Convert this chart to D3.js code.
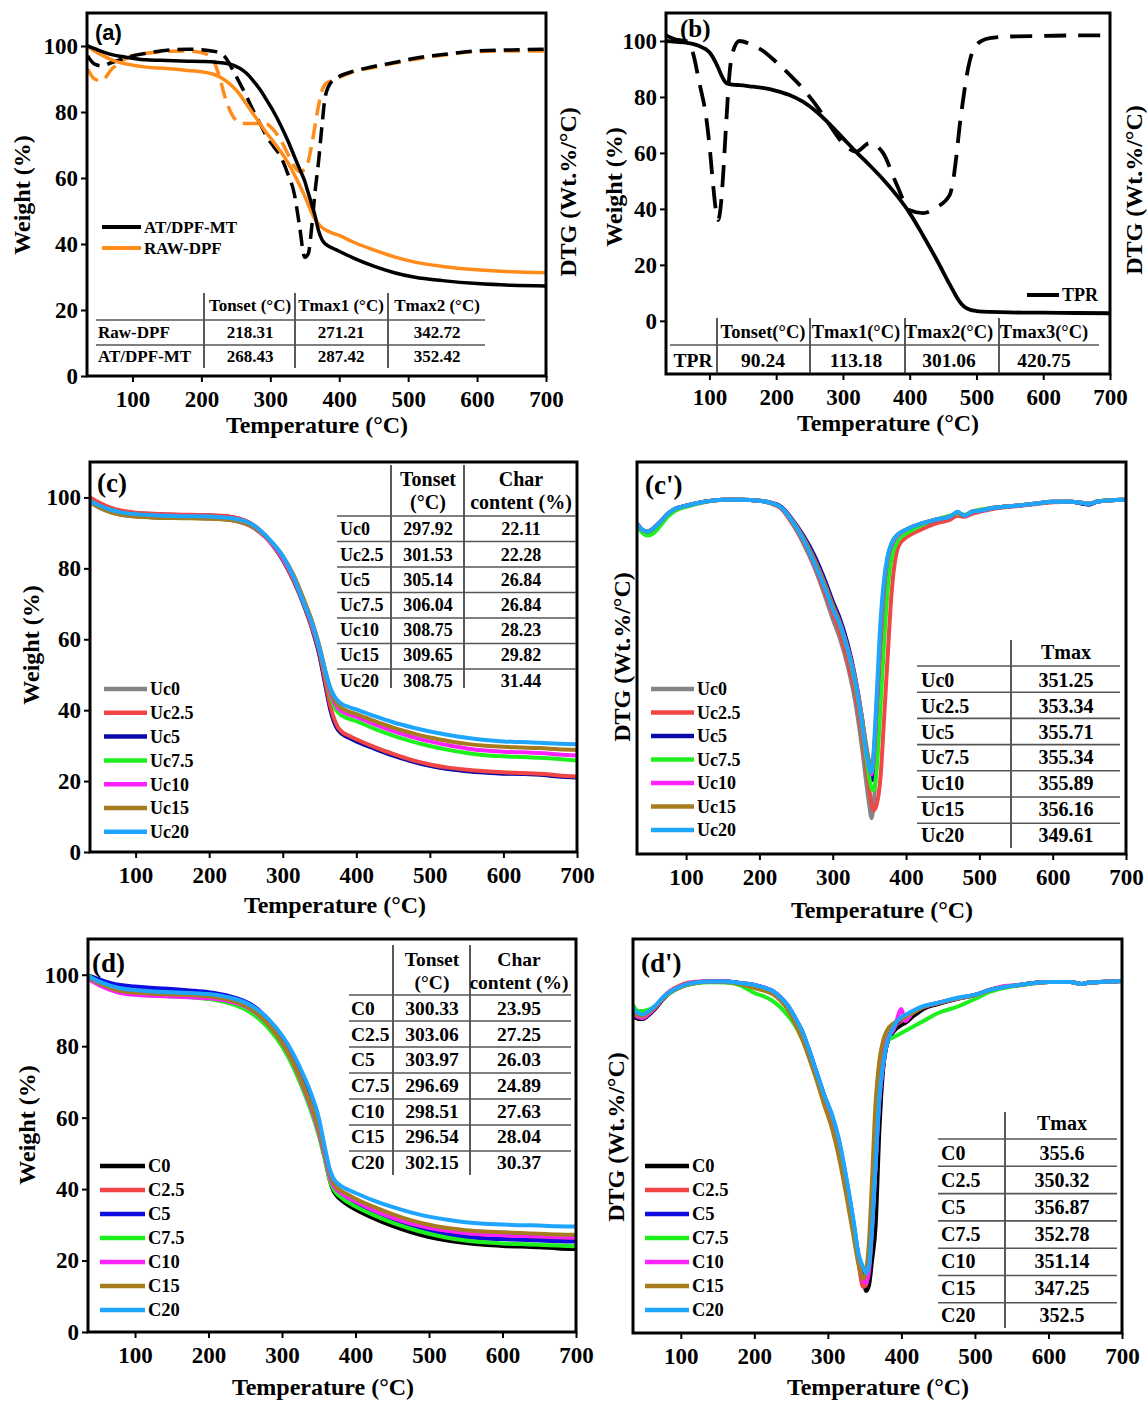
<!DOCTYPE html>
<html>
<meta charset="utf-8">
<head>
<script src="https://d3js.org/d3.v7.min.js"></script>
<style>
  body { margin: 0; background: #fff; }
  text { font-family: 'Liberation Serif', 'Times New Roman', serif; font-weight: bold; }
</style>
</head>
<body>
<script>
// ---------- data ----------
var xTicks = [100, 200, 300, 400, 500, 600, 700];
var yTicks = [0, 20, 40, 60, 80, 100];

// (a) raw vs treated fibre, TG (solid) and DTG (dashed)
var tempA = [35, 45, 55, 70, 85, 100, 120, 150, 180, 200, 215, 225, 235, 245, 255, 265, 275, 285, 295, 305,
             315, 325, 335, 342, 350, 355, 360, 365, 370, 375, 380, 390, 400, 420, 450, 480, 510, 550, 600, 650, 700];
var tgMT   = [100, 99.2, 98.4, 97.4, 96.8, 96.3, 95.8, 95.6, 95.4, 95.3, 95.2, 95, 94.8, 94.3, 93.3, 91.8, 89.5, 86.8, 83.5, 80,
              76, 71.5, 66.5, 63, 59, 55.5, 52, 48.5, 44, 41.3, 40, 38.8, 37.8, 35.8, 33.3, 31.3, 29.9, 28.9, 28, 27.5, 27.3];
var tgRaw  = [100, 98.5, 97.3, 95.8, 94.8, 94.2, 93.6, 93.2, 92.6, 92.2, 91.6, 90.8, 89.5, 87.8, 85.5, 82.5, 79.5, 76.5, 73.5, 70.8,
              68, 64.8, 61, 58, 54.5, 52, 49.5, 47.5, 46, 45, 44.3, 43.3, 42.6, 40.6, 38.2, 36.1, 34.5, 33.2, 32.2, 31.6, 31.3];
var dtgMT  = [97, 94.5, 94, 95, 96, 97, 97.8, 98.7, 99, 98.9, 98.5, 98, 96.5, 93, 89, 85, 80.5, 76.5, 72.5, 69.5,
              66.5, 61.5, 55, 46, 36, 37, 45, 56, 65, 76, 85, 89.5, 90.8, 92.3, 93.8, 95, 96.3, 97.4, 98.5, 98.8, 99];
var dtgRaw = [93, 90, 89.5, 93, 95.5, 97, 97.8, 98.4, 98.5, 98, 96.5, 91.5, 84, 79, 76.8, 76.5, 76.5, 76.5, 76.3, 74.5,
              71.5, 67.5, 63.5, 62, 62.5, 65, 70, 76, 82, 86.5, 88.5, 89.5, 90.5, 92.2, 93.5, 94.8, 96, 97.2, 98.3, 98.5, 98.5];
var tableAHead = ["Tonset (°C)", "Tmax1 (°C)", "Tmax2 (°C)"];
var tableARows = [["Raw-DPF", "218.31", "271.21", "342.72"], ["AT/DPF-MT", "268.43", "287.42", "352.42"]];

// (b) TPR
var tempB = [35, 50, 65, 75, 85, 95, 100, 105, 110, 113, 117, 120, 125, 130, 135, 145, 160, 180, 200, 220, 240, 260, 280,
             300, 320, 340, 360, 380, 400, 420, 440, 460, 465, 470, 475, 480, 485, 490, 500, 510, 520, 550, 600, 650, 700];
var tgTPR  = [100, 99.7, 99.4, 99, 98.2, 97, 96, 94.3, 92, 90.5, 88.3, 86.8, 85, 84.6, 84.4, 84.2, 83.8, 83.2, 82.2, 80.7, 78.3, 74.8, 70.3,
              65.3, 60.3, 55.6, 50.6, 45, 38.5, 30.5, 22, 13, 10.8, 8.6, 6.8, 5.4, 4.5, 4, 3.5, 3.3, 3.2, 3, 2.9, 2.8, 2.7];
var dtgTPR = [102, 100.5, 100, 96, 85, 73, 63, 50, 39, 36, 41, 50, 70, 88, 96, 100, 99, 96.5, 92.5, 88, 83, 77, 70,
              63.5, 60.5, 63.5, 60, 49, 39.5, 38.5, 40.5, 45, 50, 59, 70, 79, 87, 93, 98.5, 100.3, 101, 101.6, 101.8, 102, 102];
var tableBHead = ["Tonset(°C)", "Tmax1(°C)", "Tmax2(°C)", "Tmax3(°C)"];
var tableBRows = [["TPR", "90.24", "113.18", "301.06", "420.75"]];

// series names and colours for (c)-(d')
var ucNames = ["Uc0", "Uc2.5", "Uc5", "Uc7.5", "Uc10", "Uc15", "Uc20"];
var cNames  = ["C0", "C2.5", "C5", "C7.5", "C10", "C15", "C20"];
var ucColors = ["#858585", "#f24545", "#0a0aa8", "#1ef01e", "#ff22ff", "#a67c1e", "#1ea6ff"];
var cColors  = ["#000000", "#f24545", "#0d0de0", "#1ef01e", "#ff22ff", "#a67c1e", "#1ea6ff"];

// (c) TG of Uc series
var tempC = [38, 50, 65, 80, 100, 125, 150, 175, 200, 225, 240, 255, 270, 285, 300, 315, 330, 340, 350, 358,
             365, 370, 375, 380, 390, 400, 425, 450, 475, 500, 525, 550, 575, 600, 625, 650, 675, 700];
var tgUc0   = [99.8, 98.4, 97.0, 96.0, 95.4, 95.1, 94.9, 94.8, 94.7, 94.4, 93.8, 92.6, 90.3, 86.8, 82.3, 76.3, 68.8, 62.8, 55.3, 47.0,
               40.0, 36.6, 34.5, 33.4, 32.2, 31.3, 29.2, 27.3, 25.7, 24.4, 23.5, 22.9, 22.5, 22.2, 22.1, 21.9, 21.4, 21.1];
var tgUc2_5 = [100.0, 98.6, 97.2, 96.3, 95.7, 95.4, 95.2, 95.1, 95.0, 94.7, 94.1, 92.9, 90.6, 87.1, 82.6, 76.6, 69.2, 63.2, 56.2, 48.0,
               41.0, 37.5, 35.2, 34.0, 32.8, 31.8, 29.6, 27.7, 26.0, 24.7, 23.8, 23.2, 22.8, 22.5, 22.3, 22.1, 21.6, 21.3];
var tgUc5   = [99.6, 98.3, 97.0, 96.1, 95.6, 95.3, 95.1, 95.0, 94.9, 94.6, 94.0, 92.8, 90.5, 87.0, 82.5, 76.5, 69.0, 63.0, 55.5, 47.0,
               40.0, 36.5, 34.5, 33.4, 32.2, 31.2, 29.1, 27.2, 25.6, 24.3, 23.4, 22.8, 22.4, 22.1, 22.0, 21.8, 21.3, 21.0];
var tgUc7_5 = [98.8, 97.3, 96.0, 95.2, 94.7, 94.4, 94.3, 94.2, 94.1, 93.8, 93.2, 92.1, 90.0, 87.0, 83.0, 77.3, 70.0, 64.3, 57.0, 50.0,
               44.0, 41.0, 39.4, 38.5, 37.6, 36.9, 34.7, 32.8, 31.2, 29.9, 28.8, 27.9, 27.3, 27.0, 26.8, 26.6, 26.2, 25.8];
var tgUc10  = [98.8, 97.3, 96.0, 95.2, 94.7, 94.4, 94.3, 94.2, 94.1, 93.8, 93.2, 92.1, 90.0, 87.0, 83.0, 77.3, 70.0, 64.3, 57.3, 50.5,
               44.8, 42.2, 40.6, 39.7, 38.8, 38.1, 36.0, 34.1, 32.5, 31.2, 30.1, 29.2, 28.6, 28.3, 28.1, 27.9, 27.5, 27.2];
var tgUc15  = [98.6, 97.2, 95.9, 95.1, 94.6, 94.3, 94.2, 94.1, 94.0, 93.7, 93.2, 92.2, 90.2, 87.3, 83.5, 78.0, 70.5, 65.0, 58.0, 51.0,
               45.5, 43.0, 41.5, 40.6, 39.6, 38.9, 36.9, 35.1, 33.6, 32.3, 31.3, 30.5, 30.0, 29.7, 29.5, 29.3, 29.0, 28.8];
var tgUc20  = [99.0, 97.8, 96.6, 95.8, 95.3, 95.0, 94.8, 94.7, 94.6, 94.3, 93.8, 92.8, 90.6, 87.5, 83.5, 77.5, 69.5, 64.5, 57.5, 51.0,
               46.2, 44.0, 42.6, 41.8, 40.9, 40.2, 38.3, 36.6, 35.2, 34.0, 33.0, 32.2, 31.6, 31.2, 31.0, 30.8, 30.5, 30.4];
var tableCTonset = ["297.92", "301.53", "305.14", "306.04", "308.75", "309.65", "308.75"];
var tableCChar   = ["22.11", "22.28", "26.84", "26.84", "28.23", "29.82", "31.44"];

// (c') DTG of Uc series (Wt.%/°C)
var tempCp = [33, 40, 47, 55, 65, 75, 85, 100, 125, 150, 175, 200, 215, 230, 245, 260, 275, 290, 300, 310, 320, 330, 340, 345, 350,
              353, 356, 360, 365, 370, 375, 380, 390, 400, 420, 440, 460, 470, 480, 490, 500, 520, 550, 575, 600, 625, 640, 650, 660, 675, 700];
var dtgUc0   = [-0.12, -0.15, -0.16, -0.15, -0.115, -0.075, -0.05, -0.03, -0.01, 0, 0, -0.005, -0.017, -0.045, -0.12, -0.22, -0.34, -0.49, -0.6, -0.7, -0.83, -1.0, -1.25, -1.4, -1.54,
                -1.6, -1.52, -1.3, -0.95, -0.58, -0.36, -0.26, -0.19, -0.16, -0.13, -0.11, -0.09, -0.07, -0.08, -0.065, -0.055, -0.04, -0.03, -0.02, -0.01, -0.01, -0.015, -0.02, -0.01, -0.003, 0];
var dtgUc2_5 = [-0.125, -0.155, -0.165, -0.15, -0.115, -0.075, -0.05, -0.03, -0.01, 0, 0, -0.005, -0.017, -0.045, -0.12, -0.21, -0.33, -0.47, -0.57, -0.67, -0.8, -0.96, -1.18, -1.32, -1.46,
                -1.53, -1.56, -1.53, -1.4, -1.1, -0.78, -0.48, -0.23, -0.19, -0.15, -0.12, -0.1, -0.08, -0.085, -0.07, -0.06, -0.045, -0.032, -0.022, -0.012, -0.01, -0.015, -0.02, -0.01, -0.003, 0];
var dtgUc5   = [-0.12, -0.15, -0.16, -0.145, -0.11, -0.07, -0.045, -0.03, -0.01, 0, 0, -0.005, -0.013, -0.035, -0.1, -0.18, -0.28, -0.41, -0.51, -0.6, -0.72, -0.88, -1.1, -1.24, -1.37,
                -1.41, -1.35, -1.1, -0.8, -0.5, -0.32, -0.24, -0.18, -0.155, -0.125, -0.1, -0.085, -0.065, -0.08, -0.06, -0.055, -0.04, -0.03, -0.02, -0.01, -0.01, -0.02, -0.025, -0.01, -0.003, 0];
var dtgUc7_5 = [-0.13, -0.165, -0.18, -0.17, -0.13, -0.085, -0.055, -0.035, -0.012, 0, 0, -0.005, -0.015, -0.04, -0.11, -0.2, -0.31, -0.44, -0.54, -0.63, -0.75, -0.91, -1.13, -1.27, -1.4,
                -1.45, -1.46, -1.35, -1.05, -0.72, -0.45, -0.3, -0.2, -0.17, -0.13, -0.1, -0.08, -0.07, -0.075, -0.06, -0.05, -0.04, -0.03, -0.02, -0.01, -0.01, -0.015, -0.02, -0.008, -0.003, 0];
var dtgUc10  = [-0.12, -0.15, -0.16, -0.145, -0.11, -0.07, -0.045, -0.03, -0.01, 0, 0, -0.005, -0.015, -0.04, -0.105, -0.19, -0.3, -0.43, -0.53, -0.62, -0.74, -0.89, -1.1, -1.23, -1.34,
                -1.38, -1.3, -1.05, -0.72, -0.45, -0.3, -0.23, -0.175, -0.15, -0.12, -0.1, -0.085, -0.065, -0.08, -0.06, -0.055, -0.04, -0.03, -0.02, -0.01, -0.01, -0.015, -0.02, -0.01, -0.003, 0];
var dtgUc15  = [-0.12, -0.15, -0.16, -0.145, -0.11, -0.07, -0.045, -0.03, -0.01, 0, 0, -0.005, -0.015, -0.04, -0.105, -0.19, -0.3, -0.43, -0.53, -0.62, -0.74, -0.89, -1.1, -1.22, -1.32,
                -1.36, -1.28, -1.02, -0.68, -0.43, -0.29, -0.22, -0.17, -0.15, -0.12, -0.1, -0.085, -0.065, -0.08, -0.06, -0.055, -0.04, -0.03, -0.02, -0.01, -0.01, -0.015, -0.02, -0.01, -0.003, 0];
var dtgUc20  = [-0.12, -0.15, -0.16, -0.145, -0.11, -0.07, -0.045, -0.03, -0.01, 0, 0, -0.005, -0.015, -0.04, -0.11, -0.2, -0.32, -0.45, -0.55, -0.63, -0.75, -0.9, -1.12, -1.25, -1.35,
                -1.37, -1.25, -0.98, -0.62, -0.4, -0.28, -0.22, -0.17, -0.15, -0.12, -0.1, -0.085, -0.06, -0.08, -0.06, -0.055, -0.04, -0.03, -0.02, -0.01, -0.01, -0.015, -0.02, -0.01, -0.003, 0];
var tableCpTmax = ["351.25", "353.34", "355.71", "355.34", "355.89", "356.16", "349.61"];

// (d) TG of C series
var tempD = [36, 50, 65, 80, 100, 125, 150, 175, 200, 225, 240, 255, 270, 285, 300, 315, 330, 340, 350, 358,
             365, 370, 375, 380, 390, 400, 425, 450, 475, 500, 525, 550, 575, 600, 625, 650, 675, 700];
var tgC0   = [99.5, 98.3, 97.2, 96.4, 95.8, 95.4, 95.2, 94.9, 94.5, 93.7, 92.8, 91.4, 89.2, 86.0, 81.5, 75.5, 68.0, 62.5, 55.5, 49.0,
              42.5, 39.5, 38.0, 37.0, 35.5, 34.3, 31.8, 29.7, 28.0, 26.6, 25.6, 24.9, 24.4, 24.1, 23.9, 23.7, 23.4, 23.2];
var tgC2_5 = [99.0, 97.5, 96.0, 95.0, 94.5, 94.2, 94.0, 93.8, 93.5, 92.8, 92.0, 90.7, 88.5, 85.3, 81.0, 75.3, 68.0, 62.5, 55.8, 49.3,
              43.0, 40.5, 39.2, 38.4, 37.1, 36.0, 33.6, 31.6, 30.0, 28.8, 28.0, 27.4, 27.0, 26.8, 26.6, 26.5, 26.3, 26.2];
var tgC5   = [99.8, 98.8, 97.8, 97.1, 96.7, 96.3, 96.0, 95.6, 95.1, 94.2, 93.3, 92.0, 89.8, 86.6, 82.5, 76.8, 69.5, 63.8, 57.0, 50.0,
              43.5, 40.5, 39.0, 38.0, 36.6, 35.4, 32.9, 30.9, 29.3, 28.2, 27.3, 26.6, 26.2, 26.0, 25.8, 25.6, 25.4, 25.3];
var tgC7_5 = [99.8, 98.0, 96.5, 95.3, 94.6, 94.2, 94.0, 93.7, 93.2, 92.2, 91.2, 89.7, 87.4, 84.2, 80.0, 74.3, 67.0, 61.5, 55.0, 48.5,
              42.5, 40.0, 38.6, 37.7, 36.3, 35.1, 32.7, 30.6, 28.9, 27.5, 26.4, 25.6, 25.1, 24.8, 24.6, 24.4, 24.2, 24.0];
var tgC10  = [98.8, 97.2, 95.8, 94.9, 94.4, 94.1, 93.9, 93.7, 93.4, 92.7, 91.9, 90.6, 88.4, 85.2, 81.0, 75.3, 68.0, 62.5, 56.0, 49.5,
              43.5, 41.0, 39.7, 38.9, 37.6, 36.5, 34.0, 32.0, 30.4, 29.2, 28.3, 27.7, 27.3, 27.1, 26.9, 26.8, 26.6, 26.4];
var tgC15  = [99.2, 97.7, 96.4, 95.5, 95.0, 94.7, 94.5, 94.3, 93.9, 93.1, 92.2, 90.8, 88.5, 85.2, 81.0, 75.5, 68.5, 63.3, 57.0, 50.5,
              44.5, 41.8, 40.4, 39.6, 38.4, 37.3, 35.0, 33.0, 31.3, 30.0, 29.1, 28.5, 28.1, 27.9, 27.7, 27.5, 27.3, 27.2];
var tgC20  = [99.5, 98.2, 97.0, 96.2, 95.7, 95.3, 95.1, 94.9, 94.6, 93.8, 93.0, 91.7, 89.7, 86.8, 83.0, 78.0, 71.5, 66.5, 60.0, 52.0,
              45.5, 43.0, 41.7, 40.9, 39.8, 38.9, 36.8, 35.0, 33.5, 32.3, 31.4, 30.7, 30.3, 30.1, 29.9, 29.8, 29.6, 29.5];
var tableDTonset = ["300.33", "303.06", "303.97", "296.69", "298.51", "296.54", "302.15"];
var tableDChar   = ["23.95", "27.25", "26.03", "24.89", "27.63", "28.04", "30.37"];

// (d') DTG of C series
var tempDp = [35, 42, 48, 55, 65, 75, 85, 100, 120, 140, 160, 180, 200, 215, 225, 235, 245, 255, 265, 275, 285, 295, 305, 315, 325, 335,
              342, 348, 352, 356, 360, 365, 370, 375, 380, 390, 400, 405, 415, 430, 450, 475, 500, 520, 540, 560, 580, 600, 630, 645, 655, 670, 700];
var dtgC0   = [-0.17, -0.19, -0.19, -0.175, -0.14, -0.095, -0.06, -0.03, -0.01, -0.003, -0.003, -0.01, -0.022, -0.04, -0.055, -0.085, -0.125, -0.19, -0.27, -0.37, -0.48, -0.6, -0.7, -0.82, -1.02, -1.24,
               -1.38, -1.48, -1.55, -1.52, -1.4, -1.22, -0.75, -0.45, -0.32, -0.25, -0.22, -0.21, -0.18, -0.14, -0.115, -0.09, -0.07, -0.045, -0.03, -0.02, -0.01, -0.005, -0.005, -0.015, -0.008, -0.005, 0];
var dtgC2_5 = [-0.16, -0.18, -0.18, -0.165, -0.13, -0.085, -0.05, -0.02, -0.004, 0, -0.002, -0.01, -0.02, -0.035, -0.05, -0.08, -0.125, -0.19, -0.27, -0.37, -0.49, -0.6, -0.72, -0.86, -1.05, -1.26,
               -1.42, -1.53, -1.52, -1.4, -1.2, -0.88, -0.55, -0.38, -0.3, -0.23, -0.2, -0.19, -0.16, -0.13, -0.11, -0.088, -0.07, -0.045, -0.03, -0.02, -0.01, -0.005, -0.005, -0.015, -0.008, -0.005, 0];
var dtgC5   = [-0.15, -0.17, -0.175, -0.16, -0.13, -0.09, -0.058, -0.028, -0.008, -0.003, -0.003, -0.01, -0.02, -0.035, -0.05, -0.08, -0.12, -0.18, -0.25, -0.35, -0.46, -0.57, -0.67, -0.8, -0.99, -1.21,
               -1.38, -1.44, -1.47, -1.42, -1.24, -0.92, -0.6, -0.43, -0.32, -0.23, -0.19, -0.18, -0.155, -0.13, -0.11, -0.088, -0.07, -0.045, -0.03, -0.02, -0.01, -0.005, -0.005, -0.015, -0.008, -0.005, 0];
var dtgC7_5 = [-0.12, -0.15, -0.15, -0.145, -0.125, -0.09, -0.06, -0.03, -0.012, -0.006, -0.008, -0.02, -0.06, -0.08, -0.1, -0.13, -0.17, -0.22, -0.29, -0.38, -0.48, -0.59, -0.69, -0.82, -1.01, -1.23,
               -1.38, -1.44, -1.45, -1.4, -1.22, -0.9, -0.58, -0.42, -0.3, -0.28, -0.26, -0.25, -0.23, -0.2, -0.16, -0.13, -0.09, -0.055, -0.035, -0.022, -0.012, -0.005, -0.005, -0.015, -0.008, -0.005, 0];
var dtgC10  = [-0.16, -0.18, -0.185, -0.17, -0.135, -0.09, -0.055, -0.025, -0.006, -0.002, -0.003, -0.01, -0.02, -0.035, -0.05, -0.08, -0.125, -0.19, -0.27, -0.37, -0.48, -0.6, -0.7, -0.84, -1.03, -1.25,
               -1.41, -1.5, -1.51, -1.45, -1.25, -0.92, -0.6, -0.42, -0.3, -0.24, -0.14, -0.2, -0.16, -0.13, -0.11, -0.088, -0.07, -0.045, -0.025, -0.02, -0.01, -0.005, -0.005, -0.015, -0.008, -0.005, 0];
var dtgC15  = [-0.15, -0.17, -0.175, -0.16, -0.13, -0.09, -0.058, -0.03, -0.01, -0.004, -0.005, -0.015, -0.035, -0.05, -0.065, -0.095, -0.14, -0.21, -0.29, -0.39, -0.5, -0.62, -0.73, -0.88, -1.07, -1.28,
               -1.42, -1.49, -1.45, -1.3, -1.0, -0.6, -0.4, -0.3, -0.25, -0.21, -0.19, -0.18, -0.16, -0.13, -0.11, -0.088, -0.07, -0.045, -0.03, -0.02, -0.01, -0.005, -0.005, -0.015, -0.008, -0.005, 0];
var dtgC20  = [-0.14, -0.16, -0.167, -0.155, -0.125, -0.085, -0.055, -0.027, -0.008, -0.003, -0.003, -0.01, -0.02, -0.035, -0.05, -0.08, -0.12, -0.18, -0.25, -0.35, -0.46, -0.57, -0.66, -0.79, -0.98, -1.2,
               -1.37, -1.43, -1.46, -1.42, -1.24, -0.91, -0.58, -0.42, -0.32, -0.225, -0.18, -0.17, -0.15, -0.125, -0.108, -0.085, -0.068, -0.045, -0.03, -0.02, -0.01, -0.005, -0.005, -0.015, -0.008, -0.005, 0];
var tableDpTmax = ["355.6", "350.32", "356.87", "352.78", "351.14", "347.25", "352.5"];

// ---------- drawing ----------
var svg = d3.select("body").append("svg")
    .attr("width", 1147)
    .attr("height", 1402);

svg.append("rect").attr("width", 1147).attr("height", 1402).attr("fill", "#fff");

function txt(x, y, s, size, anchor, rot) {
    var t = svg.append("text")
        .attr("font-size", size)
        .attr("text-anchor", anchor || "start")
        .attr("dy", "0.35em")
        .text(s);
    if (rot) t.attr("transform", "translate(" + x + "," + y + ") rotate(-90)");
    else t.attr("x", x).attr("y", y);
    return t;
}

function drawPanel(p) {
    var x = d3.scaleLinear().domain(p.xDom).range([p.x0, p.x1]);
    var y = d3.scaleLinear().domain(p.yDom).range([p.y1, p.y0]);

    svg.append("clipPath").attr("id", "clip" + p.id)
        .append("rect")
        .attr("x", p.x0).attr("y", p.y0)
        .attr("width", p.x1 - p.x0).attr("height", p.y1 - p.y0);

    var line = d3.line()
        .x(function(d) { return x(d[0]); })
        .y(function(d) { return y(d[1]); })
        .curve(d3.curveMonotoneX);

    var plot = svg.append("g").attr("clip-path", "url(#clip" + p.id + ")");
    p.order.forEach(function(k) {
        var s = p.series[k];
        plot.append("path")
            .datum(p.temps.map(function(t, i) { return [t, s.values[i]]; }))
            .attr("d", line)
            .attr("fill", "none")
            .attr("stroke", s.color)
            .attr("stroke-width", s.width || 4)
            .attr("stroke-dasharray", s.dash || null)
            .attr("stroke-linejoin", "round");
    });

    var xa = svg.append("g")
        .attr("transform", "translate(0," + p.y1 + ")")
        .call(d3.axisBottom(x).tickValues(xTicks).tickSize(6).tickPadding(9).tickFormat(d3.format("d")));
    if (p.weight) {
        var ya = svg.append("g")
            .attr("transform", "translate(" + p.x0 + ",0)")
            .call(d3.axisLeft(y).tickValues(yTicks).tickSize(6).tickPadding(3));
        ya.selectAll("text").attr("font-size", 23).attr("fill", "#000");
        ya.selectAll("line").attr("stroke-width", 2);
        ya.select(".domain").remove();
    }
    xa.selectAll("text").attr("font-size", 23).attr("fill", "#000");
    xa.selectAll("line").attr("stroke-width", 2);
    xa.select(".domain").remove();

    svg.append("rect")
        .attr("x", p.x0).attr("y", p.y0)
        .attr("width", p.x1 - p.x0).attr("height", p.y1 - p.y0)
        .attr("fill", "none").attr("stroke", "#000").attr("stroke-width", 3);

    // legend
    p.legend.items.forEach(function(it, i) {
        var ly = p.legend.y + i * p.legend.step;
        svg.append("line")
            .attr("x1", p.legend.x0).attr("x2", p.legend.x1)
            .attr("y1", ly).attr("y2", ly)
            .attr("stroke", it.color).attr("stroke-width", p.legend.lw || 4.5);
        txt(p.legend.x1 + 3, ly, it.name, p.legend.size);
    });
}

function tableLines(vx, vy, hy, hx) {
    vx.forEach(function(v) {
        svg.append("line").attr("x1", v).attr("x2", v).attr("y1", vy[0]).attr("y2", vy[1])
            .attr("stroke", "#222").attr("stroke-width", 1.5);
    });
    hy.forEach(function(h) {
        svg.append("line").attr("x1", hx[0]).attr("x2", hx[1]).attr("y1", h).attr("y2", h)
            .attr("stroke", "#555").attr("stroke-width", 1.6);
    });
}

function seriesList(names, colors, vals) {
    return names.map(function(n, i) { return { name: n, color: colors[i], values: vals[i] }; });
}

// ----- (a)
var seriesA = [
    { name: "AT/DPF-MT", color: "#000", values: tgMT, width: 3.5 },
    { name: "RAW-DPF", color: "#ff8c1a", values: tgRaw, width: 3.5 },
    { color: "#ff8c1a", values: dtgRaw, width: 3.5, dash: "16,8" },
    { color: "#000", values: dtgMT, width: 3.5, dash: "16,8" }
];
drawPanel({
    id: "a", x0: 87, x1: 546, y0: 13, y1: 376, xDom: [34, 700], yDom: [0, 110], weight: true,
    temps: tempA, series: seriesA, order: [2, 3, 1, 0],
    legend: { x0: 102, x1: 141, y: 227, step: 21, size: 17, lw: 4, items: seriesA.slice(0, 2) }
});
tableLines([204, 295, 388], [293, 368], [320, 345], [96, 485]);
[250, 341, 437].forEach(function(cx, j) {
    txt(cx, 305, tableAHead[j], 17, "middle");
    tableARows.forEach(function(r, i) { txt(cx, 332 + i * 24, r[j + 1], 17, "middle"); });
});
tableARows.forEach(function(r, i) { txt(98, 332 + i * 24, r[0], 17); });
txt(95, 32, "(a)", 22).style("font-family", "'Liberation Sans', Arial, sans-serif");
txt(317, 425, "Temperature (°C)", 24, "middle");
txt(22, 195, "Weight (%)", 24, "middle", true);
txt(568, 192, "DTG (Wt.%/°C)", 24, "middle", true);

// ----- (b)
var seriesB = [
    { name: "TPR", color: "#000", values: tgTPR, width: 3.8 },
    { color: "#000", values: dtgTPR, width: 3.8, dash: "22,12" }
];
drawPanel({
    id: "b", x0: 666, x1: 1110, y0: 13, y1: 374, xDom: [35, 700], yDom: [-19, 110], weight: true,
    temps: tempB, series: seriesB, order: [1, 0],
    legend: { x0: 1027, x1: 1059, y: 295, step: 0, size: 18, lw: 4, items: seriesB.slice(0, 1) }
});
tableLines([717, 810, 905, 999], [318, 374], [345], [670, 1099]);
[763, 856, 949, 1044].forEach(function(cx, j) {
    txt(cx, 332, tableBHead[j], 18.5, "middle");
    txt(cx, 360, tableBRows[0][j + 1], 19.5, "middle");
});
txt(693, 360, tableBRows[0][0], 19.5, "middle");
txt(680, 28, "(b)", 25);
txt(888, 423, "Temperature (°C)", 24, "middle");
txt(614, 187, "Weight (%)", 24, "middle", true);
txt(1134, 190, "DTG (Wt.%/°C)", 24, "middle", true);

// ----- (c)
var seriesC = seriesList(ucNames, ucColors, [tgUc0, tgUc2_5, tgUc5, tgUc7_5, tgUc10, tgUc15, tgUc20]);
drawPanel({
    id: "c", x0: 90, x1: 577, y0: 462, y1: 852, xDom: [38, 700], yDom: [0, 110], weight: true,
    temps: tempC, series: seriesC, order: [0, 2, 1, 3, 4, 5, 6],
    legend: { x0: 104, x1: 147, y: 689, step: 23.8, size: 18, items: seriesC }
});
tableLines([391, 464], [465, 688], d3.range(7).map(function(i) { return 516 + i * 25.5; }), [337, 576]);
txt(428, 479, "Tonset", 20, "middle"); txt(428, 502, "(°C)", 20, "middle");
txt(521, 479, "Char", 20, "middle"); txt(521, 502, "content (%)", 20, "middle");
ucNames.forEach(function(n, i) {
    var ry = 529 + i * 25.2;
    txt(340, ry, n, 18);
    txt(428, ry, tableCTonset[i], 18, "middle");
    txt(521, ry, tableCChar[i], 18, "middle");
});
txt(97, 483, "(c)", 27);
txt(335, 905, "Temperature (°C)", 24, "middle");
txt(31, 645, "Weight (%)", 24, "middle", true);

// ----- (c')
var seriesCp = seriesList(ucNames, ucColors, [dtgUc0, dtgUc2_5, dtgUc5, dtgUc7_5, dtgUc10, dtgUc15, dtgUc20]);
drawPanel({
    id: "cp", x0: 637, x1: 1126, y0: 462, y1: 854, xDom: [33, 700], yDom: [-1.78, 0.19], weight: false,
    temps: tempCp, series: seriesCp, order: [0, 1, 2, 3, 4, 5, 6],
    legend: { x0: 651, x1: 694, y: 689, step: 23.5, size: 18, items: seriesCp }
});
tableLines([1011], [640, 848], d3.range(7).map(function(i) { return 666 + i * 26.2; }), [917, 1120]);
txt(1066, 652, "Tmax", 20, "middle");
ucNames.forEach(function(n, i) {
    var ry = 680 + i * 25.8;
    txt(921, ry, n, 20);
    txt(1066, ry, tableCpTmax[i], 20, "middle");
});
txt(645, 485, "(c')", 27);
txt(882, 910, "Temperature (°C)", 24, "middle");
txt(622, 657, "DTG (Wt.%/°C)", 24, "middle", true);

// ----- (d)
var seriesD = seriesList(cNames, cColors, [tgC0, tgC2_5, tgC5, tgC7_5, tgC10, tgC15, tgC20]);
drawPanel({
    id: "d", x0: 88, x1: 576, y0: 939, y1: 1332, xDom: [36, 700], yDom: [0, 110], weight: true,
    temps: tempD, series: seriesD, order: [0, 1, 2, 3, 4, 5, 6],
    legend: { x0: 100, x1: 145, y: 1166, step: 24, size: 18.5, items: seriesD }
});
tableLines([393, 470], [945, 1175], d3.range(7).map(function(i) { return 995 + i * 26; }), [349, 571]);
txt(432, 959, "Tonset", 19.5, "middle"); txt(432, 982, "(°C)", 19.5, "middle");
txt(519, 959, "Char", 19.5, "middle"); txt(519, 982, "content (%)", 19.5, "middle");
cNames.forEach(function(n, i) {
    var ry = 1008 + i * 25.7;
    txt(351, ry, n, 19.5);
    txt(432, ry, tableDTonset[i], 19.5, "middle");
    txt(519, ry, tableDChar[i], 19.5, "middle");
});
txt(92, 963, "(d)", 27);
txt(323, 1387, "Temperature (°C)", 24, "middle");
txt(27, 1125, "Weight (%)", 24, "middle", true);

// ----- (d')
var seriesDp = seriesList(cNames, cColors, [dtgC0, dtgC2_5, dtgC5, dtgC7_5, dtgC10, dtgC15, dtgC20]);
drawPanel({
    id: "dp", x0: 633, x1: 1122, y0: 939, y1: 1333, xDom: [35, 700], yDom: [-1.76, 0.21], weight: false,
    temps: tempDp, series: seriesDp, order: [0, 1, 2, 3, 4, 5, 6],
    legend: { x0: 645, x1: 689, y: 1166, step: 24, size: 18.5, items: seriesDp }
});
tableLines([1005], [1112, 1328], d3.range(7).map(function(i) { return 1139 + i * 27.3; }), [938, 1117]);
txt(1062, 1123, "Tmax", 20, "middle");
cNames.forEach(function(n, i) {
    var ry = 1153 + i * 27;
    txt(941, ry, n, 20);
    txt(1062, ry, tableDpTmax[i], 20, "middle");
});
txt(641, 963, "(d')", 27);
txt(878, 1387, "Temperature (°C)", 24, "middle");
txt(616, 1137, "DTG (Wt.%/°C)", 24, "middle", true);
</script>
</body>
</html>
